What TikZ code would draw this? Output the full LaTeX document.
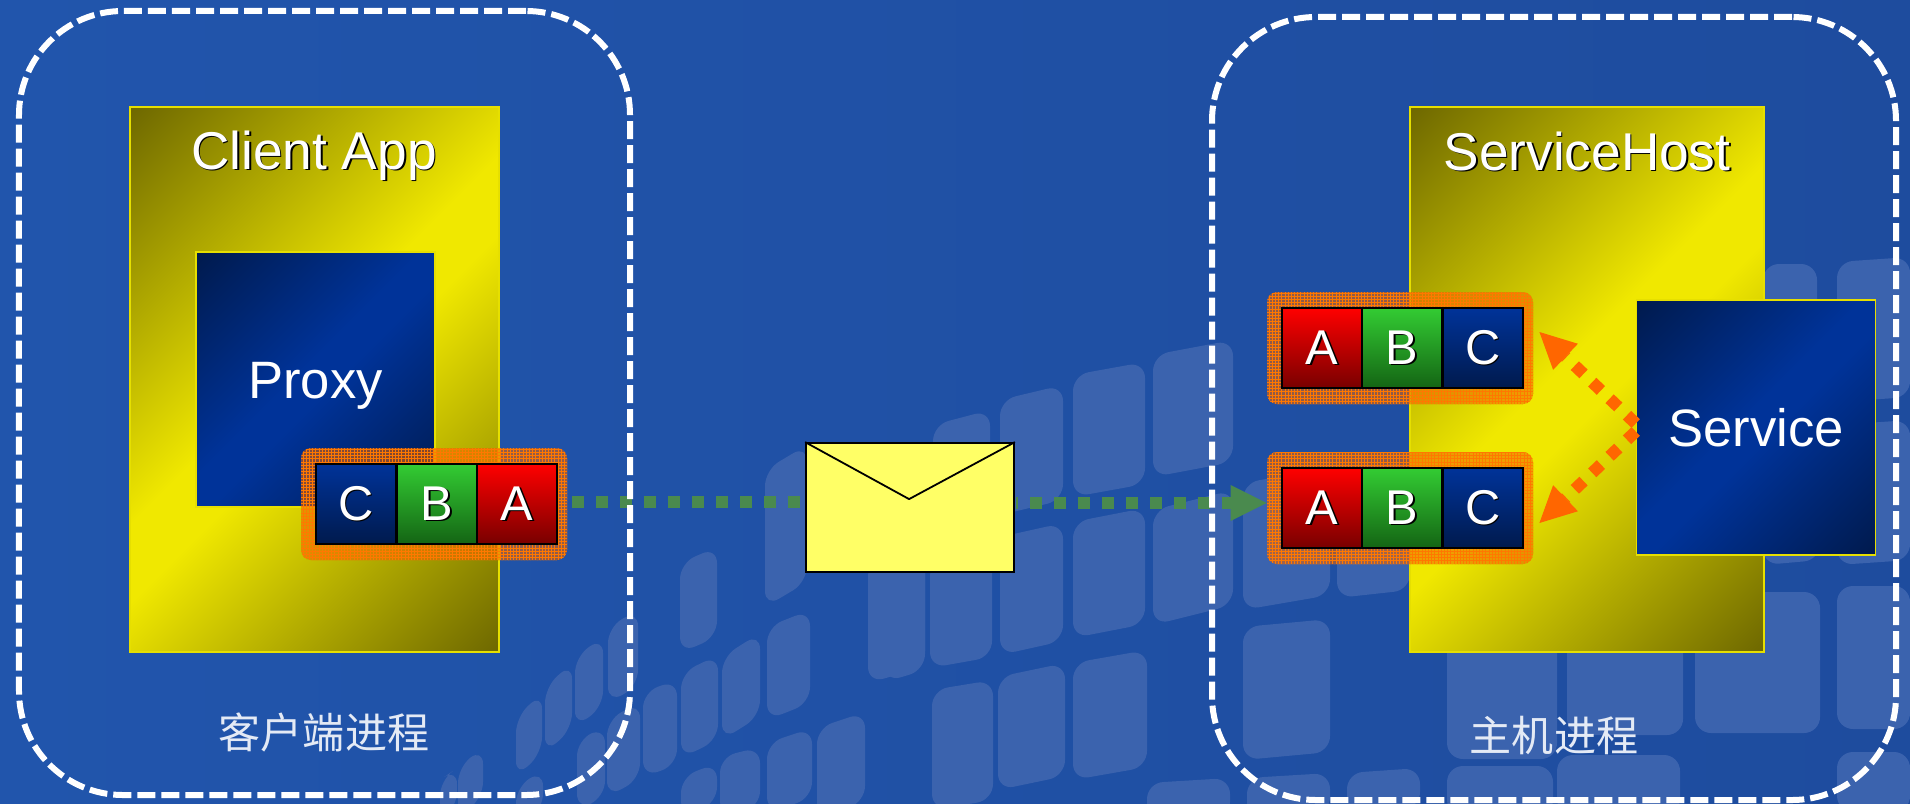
\documentclass[tikz,border=0pt]{standalone}
\usepackage{fontspec}
\setmainfont{Liberation Sans}
\newfontfamily\cjkfont{Noto Sans CJK SC}
\usetikzlibrary{patterns,arrows.meta}

\definecolor{bgleft}{HTML}{2155AC}
\definecolor{bgright}{HTML}{1E4C9E}
\definecolor{tilecol}{HTML}{3B63AE}
\definecolor{yellowmid}{HTML}{F0E800}
\definecolor{yellowdark}{HTML}{6E6800}
\definecolor{yellowline}{HTML}{E6DF00}
\definecolor{bluemid}{HTML}{003399}
\definecolor{bluedark}{HTML}{001A4D}
\definecolor{tagorange}{HTML}{EE6400}
\definecolor{tagline}{HTML}{FF7800}
\definecolor{keygreen}{HTML}{33CC33}
\definecolor{keygreendark}{HTML}{146414}
\definecolor{keyreddark}{HTML}{780000}
\definecolor{msggreen}{HTML}{4A8A4E}
\definecolor{callorange}{HTML}{FF6600}
\definecolor{envcol}{HTML}{FFFF66}
\definecolor{cjkcol}{HTML}{E4EAF5}

\pgfdeclareverticalshading{yellowdiag}{100bp}{color(0bp)=(yellowdark); color(14.6bp)=(yellowdark); color(47bp)=(yellowmid); color(53bp)=(yellowmid); color(85.4bp)=(yellowdark); color(100bp)=(yellowdark)}
\pgfdeclareverticalshading{bluediag}{100bp}{color(0bp)=(bluedark); color(14.6bp)=(bluedark); color(47bp)=(bluemid); color(53bp)=(bluemid); color(85.4bp)=(bluedark); color(100bp)=(bluedark)}
\pgfdeclarepatternformonly{finegrid}{\pgfqpoint{-1pt}{-1pt}}{\pgfqpoint{1pt}{1pt}}{\pgfqpoint{1.6pt}{1.6pt}}{
  \pgfsetlinewidth{0.3pt}
  \pgfpathmoveto{\pgfqpoint{0pt}{-1pt}}
  \pgfpathlineto{\pgfqpoint{0pt}{1pt}}
  \pgfpathmoveto{\pgfqpoint{-1pt}{0pt}}
  \pgfpathlineto{\pgfqpoint{1pt}{0pt}}
  \pgfusepath{stroke}
}

\newcommand{\shadowtxt}[1]{\rlap{\raisebox{-0.8pt}{\hspace{0.8pt}\textcolor{black}{#1}}}#1}

\begin{document}
\begin{tikzpicture}[
    x=0.5bp, y=-0.5bp,
    processbox/.style={draw=white,line width=3bp,dash pattern=on 9bp off 3bp,rounded corners=52bp,inner sep=0pt},
    yellowbox/.style={draw=yellowline,line width=1bp,inner sep=0pt,shade,shading=yellowdiag,shading angle=45},
    bluebox/.style={draw=yellowline,line width=0.8bp,inner sep=0pt,text=white,text depth=0pt,font=\fontsize{26.4}{26.4}\selectfont,shade,shading=bluediag,shading angle=45},
    boxtitle/.style={text=white,inner sep=0pt,text depth=0pt,font=\fontsize{26.7}{26.7}\selectfont},
    proclabel/.style={text=cjkcol,inner sep=0pt,font=\cjkfont\fontsize{21.1}{21.1}\selectfont},
    tagbox/.style={rounded corners=5bp,inner sep=0pt,minimum width=133bp,minimum height=56bp,fill=tagorange,fill opacity=.55,
      postaction={fill opacity=1,pattern=finegrid,pattern color=tagline}},
    keycell/.style={draw=black,line width=0.9bp,inner sep=0pt,minimum width=40bp,minimum height=40bp,text=white,font=\fontsize{24.5}{24.5}\selectfont},
    keyA/.style={top color=red,bottom color=keyreddark},
    keyB/.style={top color=keygreen,bottom color=keygreendark},
    keyC/.style={top color=bluemid,bottom color=bluedark},
    msgflow/.style={msggreen,line width=6bp,dash pattern=on 6bp off 6bp},
    callflow/.style={callorange,line width=6bp,dash pattern=on 6bp off 6bp,-{Triangle[length=18bp,width=18bp,line width=0pt]}},
    letter/.style={fill=envcol,draw=black,line width=0.9bp,inner sep=0pt,minimum width=104bp,minimum height=64.5bp}
  ]
    \useasboundingbox (0,0) rectangle (1910,803);
    \shade[left color=bgleft,right color=bgright] (0,0) rectangle (1910,803);
    \begin{scope}
      \clip (0,0) rectangle (1910,803);
      \foreach \tx/\ty/\tw/\th/\ts in {
        1153/355/80/122/15, 1073/375/72/122/13, 1000/400/63/115/15, 933/425/57/110/15,
        1153/510/80/115/20, 1073/522/72/116/14, 1000/537/63/118/14, 930/560/62/108/11,
        885/545/40/137/12, 1243/627/87/133/8, 1243/483/87/127/15, 1337/470/73/128/8,
        1073/663/74/117/13, 998/677/67/113/14, 932/690/61/120/10, 1147/783/83/40/5,
        1247/778/83/40/5, 1347/773/73/40/5, 1763/264/54/130/0, 1837/262/73/140/5,
        1837/425/73/140/5, 1763/430/57/135/5, 1695/592/125/141/0, 1837/586/73/143/0,
        1567/592/116/143/0, 1447/620/110/139/0, 1447/766/106/50/0, 1557/755/123/60/0,
        1837/752/73/60/0, 680/563/37/90/16, 608/627/30/76/17, 575/657/28/70/20,
        545/687/27/66/24, 516/717/26/60/24, 767/627/43/93/17, 722/657/38/83/24,
        681/673/37/85/18, 643/692/34/85/12, 607/720/33/77/18, 577/740/28/70/13,
        458/767/25/50/19, 440/780/17/40/12, 516/787/27/40/17, 681/777/36/40/14,
        720/757/40/60/10, 767/743/45/70/15, 817/728/48/90/16, 868/560/57/123/16,
        765/470/42/137/25} {
        \fill[tilecol,rounded corners=8bp] (\tx,\ty) -- ({\tx+\tw},{\ty-\ts}) -- ({\tx+\tw},{\ty+\th-\ts}) -- (\tx,{\ty+\th}) -- cycle;
      }
    \end{scope}

    \node[yellowbox,minimum width=184.5bp,minimum height=272.5bp] (clientApp) at (314.5,379.5) {};
    \node[boxtitle] (clientTitle) at (314,150) {\shadowtxt{Client App}};
    \node[bluebox,minimum width=119.5bp,minimum height=127.5bp] (proxy) at (315.5,379.5) {\raisebox{-1pt}{Proxy}};
    \node[tagbox] (leftTag) at (434,504) {};

    \node[yellowbox,minimum width=177bp,minimum height=272.5bp] (serviceHost) at (1587,379.5) {};
    \node[boxtitle] (hostTitle) at (1587,151) {\shadowtxt{ServiceHost}};
    \node[tagbox] (topTag) at (1400,348) {};
    \node[tagbox] (bottomTag) at (1400,508) {};
    \node[bluebox,minimum width=119.5bp,minimum height=127.5bp] (service) at (1756,427.5) {Service};

    \foreach \cellx/\celly/\letter in {356/504/C,437/504/B,517/504/A,1322/348/A,1402/348/B,1483/348/C,1322/508/A,1402/508/B,1483/508/C}
      \node[keycell,key\letter] (cell\cellx\celly) at (\cellx,\celly) {\shadowtxt{\letter}};

    \node[letter] (envelope) at (910,507.5) {};
    \draw[line width=0.9bp,line join=round] (envelope.north west) -- ++(104,57) -- (envelope.north east);

    \draw[msgflow] ([xshift=2.5bp,yshift=1bp]leftTag.east) -- ([xshift=-1bp,yshift=1bp]leftTag.east -| envelope.west);
    \draw[msgflow,dash phase=5bp,-{Triangle[length=18bp,width=18bp,line width=0pt]}] ([xshift=0.6bp,yshift=2.5bp]bottomTag.west -| envelope.east) -- ([yshift=2.5bp]bottomTag.west);
    \draw[callflow] ([yshift=2bp]service.west) -- ([xshift=3bp,yshift=8bp]topTag.east);
    \draw[callflow] ([yshift=-2bp]service.west) -- ([xshift=3bp,yshift=-7.5bp]bottomTag.east);

    \node[processbox,minimum width=305.5bp,minimum height=392bp] (clientProc) at (324.5,403) {};
    \node[processbox,minimum width=342bp,minimum height=391.5bp] (hostProc) at (1554,408.5) {};
    \node[proclabel] (clientLabel) at (324,732) {客户端进程};
    \node[proclabel] (hostLabel) at (1554,736) {主机进程};
  \end{tikzpicture}
\end{document}
